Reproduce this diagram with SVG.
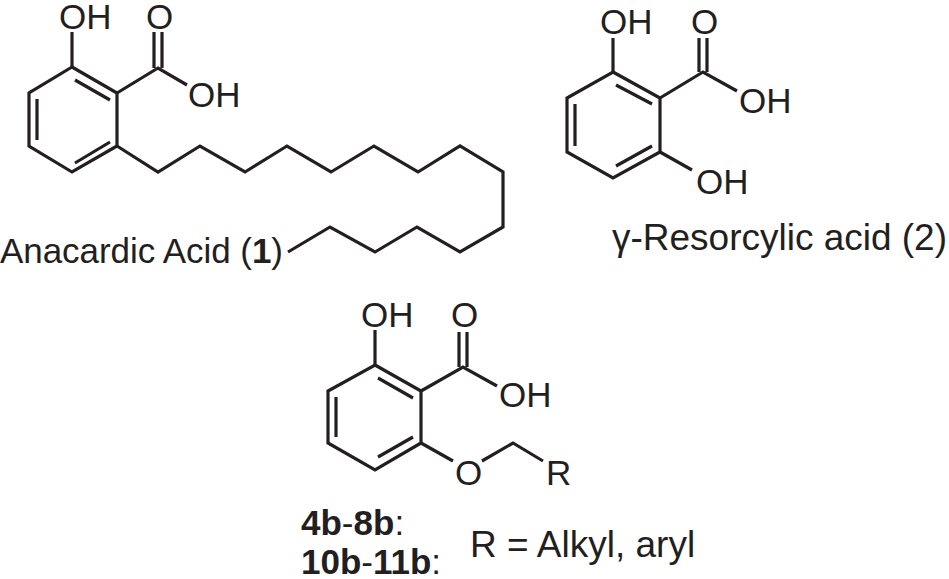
<svg xmlns="http://www.w3.org/2000/svg" width="949" height="579" viewBox="0 0 949 579">
<style>
.b{fill:none;stroke:#231f20;stroke-width:3.2;stroke-linejoin:miter;stroke-linecap:butt}
text{font-family:"Liberation Sans",Arial,sans-serif;font-size:35px;fill:#231f20}
.bd{font-weight:bold}
.lg{font-size:37px}
</style>
<rect width="949" height="579" fill="#fff"/>
<g id="connectors">
<path class="b" d="M72,67 L117,93 L117,146 L72,172 L29,146 L29,93 Z"/>
<path class="b" d="M37,99 L37,140 M75,80 L110,100 M75,163 L110,142"/>
<path class="b" d="M72,67 L72,32"/>
<path class="b" d="M117,93 L158,68 L187,85 M154,68 L154,32 M162,68 L162,32"/>
<path class="b" d="M117,146 L158,172 L200,146 L245,172 L287,146 L331,172 L374,146 L418,172 L460,146 L503,172 L503,227 L460,252 L417,227 L375,252 L330,227 L288,252"/>
<path class="b" d="M613,72 L660,98 L660,152 L613,178 L567,152 L567,98 Z"/>
<path class="b" d="M575,104 L575,146 M616,85 L652,104 M616,166 L652,146"/>
<path class="b" d="M613,72 L613,38"/>
<path class="b" d="M660,98 L703,72 L737,91 M699,72 L699,38 M707,72 L707,38"/>
<path class="b" d="M660,152 L692,170"/>
<path class="b" d="M375,365 L421,391 L421,443 L375,470 L328,443 L328,391 Z"/>
<path class="b" d="M336,397 L336,437 M378,378 L413,398 M378,457 L413,437"/>
<path class="b" d="M375,365 L375,330"/>
<path class="b" d="M421,391 L463,367 L497,386 M459,367 L459,332 M467,367 L467,332"/>
<path class="b" d="M421,443 L453,461 M482,461 L513,443 L543,461"/>
</g>
<g id="node-anacardic">
<text x="59" y="29">OH</text>
<text x="146" y="29">O</text>
<text x="188" y="107">OH</text>
<text x="0" y="263" textLength="283">Anacardic Acid (<tspan class="bd">1</tspan>)</text>
</g>
<g id="node-resorcylic">
<text x="600" y="34">OH</text>
<text x="691" y="34">O</text>
<text x="739" y="113">OH</text>
<text x="696" y="194">OH</text>
<text x="612" y="250" class="lg" textLength="335">γ-Resorcylic acid (2)</text>
</g>
<g id="node-derivative">
<text x="361" y="327">OH</text>
<text x="451" y="327">O</text>
<text x="499" y="407">OH</text>
<text x="455" y="485">O</text>
<text x="546" y="485">R</text>
<text x="301" y="535"><tspan class="bd">4b</tspan>-<tspan class="bd">8b</tspan>:</text>
<text x="301" y="574"><tspan class="bd">10b</tspan>-<tspan class="bd">11b</tspan>:</text>
<text x="470" y="557" class="lg">R = Alkyl, aryl</text>
</g>
</svg>
